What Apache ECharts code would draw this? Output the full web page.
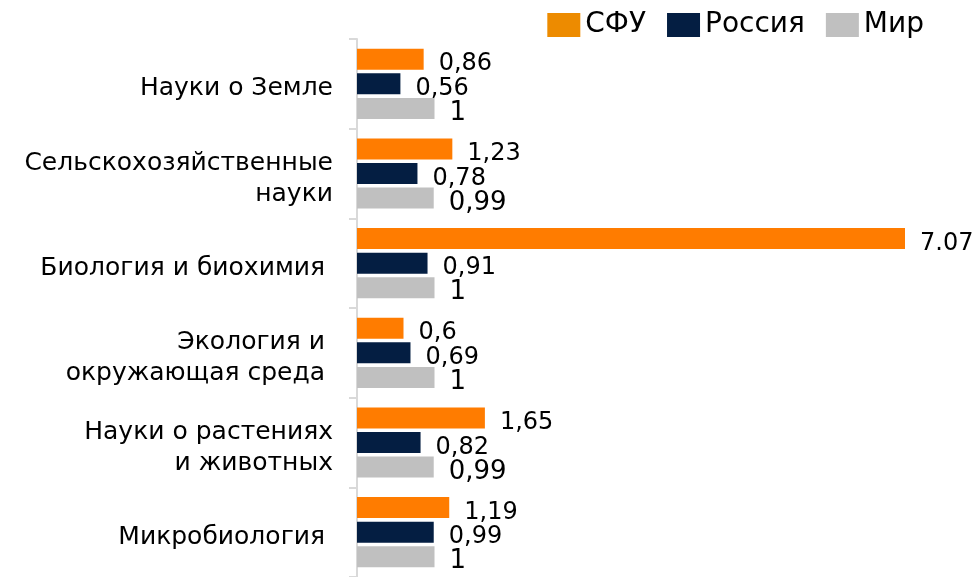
<!DOCTYPE html>
<html>
<head>
<meta charset="utf-8">
<script src="https://cdn.jsdelivr.net/npm/echarts@6/dist/echarts.min.js"></script>
<style>
  html, body { margin: 0; padding: 0; background: #fff; }
  #chart { width: 975px; height: 577px; }
</style>
</head>
<body>
<div id="chart"></div>
<script>
const categories = [
  "Науки о Земле",
  "Сельскохозяйственные\nнауки",
  "Биология и биохимия ",
  "Экология и \nокружающая среда ",
  "Науки о растениях\nи животных",
  "Микробиология "
];
const sfu = [0.86, 1.23, 7.07, 0.6, 1.65, 1.19];
const russia = [0.56, 0.78, 0.91, 0.69, 0.82, 0.99];
const world = [1, 0.99, 1, 1, 0.99, 1];
// labels as printed in the source (the big one uses a dot)
const sfuLabels = ["0,86", "1,23", "7.07", "0,6", "1,65", "1,19"];

const font = "DejaVu Sans, Verdana, sans-serif";
const comma = (p) => String(p.value).replace(".", ",");

const chart = echarts.init(document.getElementById("chart"));

const valueLabel = (size, fmt) => ({
  show: true,
  position: "right",
  distance: 15,
  offset: [0, 5],
  fontSize: size,
  color: "#000",
  fontFamily: font,
  formatter: fmt
});

chart.setOption({
  animation: false,
  textStyle: { fontFamily: font },
  legend: {
    top: 6,
    right: 46,
    itemWidth: 33,
    itemHeight: 24,
    itemGap: 21,
    icon: "rect",
    textStyle: { fontSize: 28, color: "#000", fontFamily: font },
    data: [
      { name: "СФУ", itemStyle: { color: "#ED8B00" } },
      { name: "Россия" },
      { name: "Мир" }
    ]
  },
  grid: { left: 357, right: 70, top: 39, height: 541 },
  xAxis: {
    type: "value",
    min: 0,
    max: 7.07,
    show: false
  },
  yAxis: {
    type: "category",
    inverse: true,
    data: categories,
    axisLine: { show: true, lineStyle: { color: "#D9D9D9", width: 2 } },
    axisTick: { show: true, length: 8, lineStyle: { color: "#D9D9D9", width: 2 } },
    axisLabel: {
      color: "#000",
      margin: 24,
      align: "right",
      // push each line a few px down, like the source
      formatter: (v) => v.split("\n").map((l) => "{a|" + l + "}").join("\n"),
      rich: {
        a: {
          fontSize: 25,
          fontFamily: font,
          color: "#000",
          lineHeight: 31,
          padding: [10, 0, 0, 0]
        }
      }
    }
  },
  series: [
    {
      name: "СФУ",
      type: "bar",
      data: sfu,
      barWidth: 21,
      barGap: "17%",
      itemStyle: { color: "#FF7C00" },
      label: valueLabel(24, (p) => sfuLabels[p.dataIndex])
    },
    {
      name: "Россия",
      type: "bar",
      data: russia,
      barWidth: 21,
      barGap: "17%",
      itemStyle: { color: "#041E42" },
      label: valueLabel(24, comma)
    },
    {
      name: "Мир",
      type: "bar",
      data: world,
      barWidth: 21,
      barGap: "17%",
      itemStyle: { color: "#C0C0C0" },
      label: valueLabel(26, comma)
    }
  ]
});
</script>
</body>
</html>
